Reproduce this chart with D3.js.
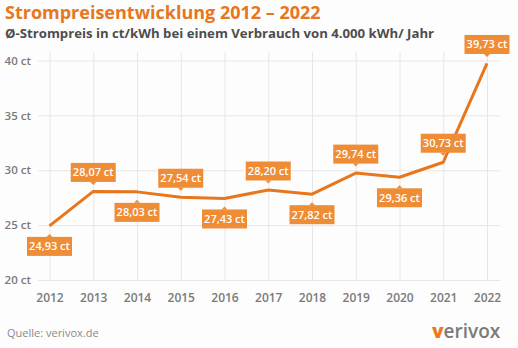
<!DOCTYPE html>
<html><head><meta charset="utf-8">
<script src="https://cdn.jsdelivr.net/npm/d3@7"></script>
<style>
html,body{margin:0;padding:0;background:#fdfdfd;}
svg{display:block;font-family:"Open Sans",sans-serif;}
</style></head>
<body><div id="chart"></div>
<script>
const years = [2012,2013,2014,2015,2016,2017,2018,2019,2020,2021,2022];
const prices = [24.93,28.07,28.03,27.54,27.43,28.20,27.82,29.74,29.36,30.73,39.73];
const labelAbove = [false,true,false,true,false,true,false,true,false,true,true];
const yTicks = [20,25,30,35,40];

const W=518,H=348;
const svg=d3.select("#chart").append("svg").attr("width",W).attr("height",H);
svg.append("rect").attr("width",W).attr("height",H).attr("fill","#fdfdfd");

const x=d3.scalePoint().domain(years).range([49.5,487]);
const y=d3.scaleLinear().domain([20,40]).range([280,60.5]);

const gy=svg.append("g").attr("transform","translate(38,0)")
  .call(d3.axisLeft(y).tickValues(yTicks).tickSize(-(500-38)).tickFormat(d=>d+" ct"));
gy.select(".domain").remove();
gy.selectAll(".tick line").attr("stroke","#e6e6e6").attr("stroke-width",1);
gy.selectAll(".tick text").attr("x",-7).attr("fill","#7a7a7a").attr("font-size","11.5px").attr("font-weight","600").attr("font-family","Open Sans");

const gx=svg.append("g").attr("transform","translate(0,280)")
  .call(d3.axisBottom(x).tickSize(-(280-52)).tickPadding(12).tickFormat(d=>d));
gx.select(".domain").remove();
gx.selectAll(".tick line").attr("stroke","#e6e6e6").attr("stroke-width",1);
gx.selectAll(".tick text").attr("fill","#7a7a7a").attr("font-size","12px").attr("font-weight","600").attr("font-family","Open Sans").attr("dy","0.71em").attr("y",13);

svg.append("path").datum(years.map((yr,i)=>[yr,prices[i]]))
  .attr("d",d3.line().x(d=>x(d[0])).y(d=>y(d[1])))
  .attr("fill","none").attr("stroke","#e8761c").attr("stroke-width",3).attr("stroke-linejoin","round");

const fmt=v=>v.toFixed(2).replace(".",",")+" ct";
const lab=svg.append("g").selectAll("g").data(years).join("g")
  .attr("transform",(d,i)=>`translate(${x(d)},${y(prices[i])})`);
const bw=45,bh=19;
lab.each(function(d,i){
  const g=d3.select(this);
  const up=labelAbove[i];
  const top= up ? -28.5 : 11;
  const tipY = up ? top+bh+3 : top-3;
  const baseY = up ? top+bh : top;
  g.append("path").attr("d",`M-3,${baseY}L0,${tipY}L3,${baseY}Z`).attr("fill","#ef8c36");
  g.append("rect").attr("x",-bw/2).attr("y",top).attr("width",bw).attr("height",bh).attr("fill","#ef8c36");
  g.append("text").attr("x",0).attr("y",top+bh/2).attr("dy","0.35em").attr("text-anchor","middle")
    .attr("fill","#fff").attr("font-size","11px").attr("font-weight","600").text(fmt(prices[i]));
});

svg.append("text").attr("x",5).attr("y",19).attr("fill","#e8761c").attr("font-size","18px").attr("font-weight","700")
  .text("Strompreisentwicklung 2012 – 2022");
svg.append("text").attr("x",5).attr("y",37.5).attr("fill","#4d4d4d").attr("font-size","13.2px").attr("font-weight","700")
  .text("Ø-Strompreis in ct/kWh bei einem Verbrauch von 4.000 kWh/ Jahr");

svg.append("text").attr("x",7).attr("y",337).attr("fill","#8a8a8a").attr("font-size","11px").attr("font-weight","400")
  .text("Quelle: verivox.de");

const logo=svg.append("text").attr("x",432).attr("y",338).attr("font-size","19px").attr("font-weight","600");
logo.append("tspan").attr("fill","#ea7a1c").attr("font-weight","800").text("v");
logo.append("tspan").attr("fill","#7a7a7a").text("erivox");
</script></body></html>
